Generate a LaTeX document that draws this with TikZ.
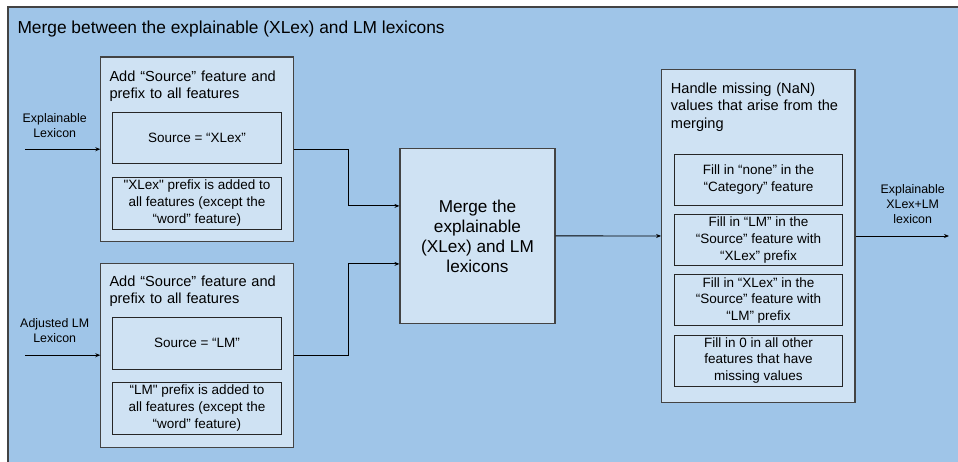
\documentclass[tikz,border=0pt]{standalone}
\usepackage{fontspec}
\setmainfont{Liberation Sans}[Ligatures=TeXOff]
\usetikzlibrary{arrows.meta}
\definecolor{sheet}{HTML}{9FC5E8}
\definecolor{panel}{HTML}{CFE2F3}
\definecolor{edge}{HTML}{434343}
\begin{document}
\begin{tikzpicture}[x=1pt,y=-1pt,
    outerbox/.style={draw=edge,fill=panel,line width=1.1pt,inner sep=0pt},
    innerbox/.style={draw=black!85,fill=panel,line width=1pt,inner sep=0pt,
        align=center,minimum width=168.4pt,font=\fontsize{13.5}{16.7}\selectfont},
    headtext/.style={anchor=base west,inner sep=0pt,text width=185pt,align=left,
        font=\fontsize{14.6}{17.6}\selectfont},
    sidetext/.style={align=center,inner sep=0pt,font=\fontsize{12.4}{14.6}\selectfont},
    flow/.style={-{Stealth[length=5pt,width=4pt]},line width=0.9pt}]
        \useasboundingbox (0,0) rectangle (958,461);
        %% Background sheet
        \fill[sheet] (8,7) rectangle (962,465);
        \draw[edge,line width=1.3pt] (8,470) -- (8,7) -- (962,7);
        \node[anchor=base west,inner sep=0pt,font=\fontsize{17.35}{20}\selectfont] (title)
            at (17.3,33.3) {Merge between the explainable (XLex) and LM lexicons};
        %% Explainable lexicon branch
        \node[outerbox,minimum width=192.3pt,minimum height=184.5pt] (xlexbox) at (197,149.2) {};
        \node[headtext] (xlexhead) at (109.3,81) {Add “Source” feature and\\prefix to all features};
        \node[innerbox,minimum height=51pt] (xlexsrc) at (197,137.5) {Source = “XLex”};
        \node[innerbox,minimum height=52pt] (xlexpre) at (197,203) {"XLex" prefix is added to\\all features (except the\\“word” feature)};
        %% LM lexicon branch
        \node[outerbox,minimum width=192.3pt,minimum height=183.7pt] (lmbox) at (197,355.2) {};
        \node[headtext] (lmhead) at (109.3,286.3) {Add “Source” feature and\\prefix to all features};
        \node[innerbox,minimum height=52pt] (lmsrc) at (197,343) {Source = “LM”};
        \node[innerbox,minimum height=52pt] (lmpre) at (197,408) {“LM" prefix is added to\\all features (except the\\“word” feature)};
        %% Merge
        \node[outerbox,minimum width=155pt,minimum height=174.3pt,align=center,
            font=\fontsize{17.2}{20}\selectfont] (merge) at (477.5,235.9) {Merge the\\explainable\\(XLex) and LM\\lexicons};
        %% NaN handling
        \node[outerbox,minimum width=193.3pt,minimum height=333.4pt] (nanbox) at (758.3,236) {};
        \node[headtext] (nanhead) at (670.7,93) {Handle missing (NaN)\\values that arise from the\\merging};
        \foreach \n/\cy/\txt in {
            1/179.8/{Fill in “none” in the\\“Category” feature},
            2/240/{Fill in “LM” in the\\“Source” feature with\\“XLex” prefix},
            3/300.3/{Fill in “XLex” in the\\“Source” feature with\\“LM” prefix},
            4/360.5/{Fill in 0 in all other\\features that have\\missing values}} {
            \node[innerbox,minimum height=51pt] (fill\n) at (758.5,\cy) {\txt};
        }
        %% Inputs and output
        \coordinate (xin) at (25,149.2);
        \coordinate (lmin) at (25,355.2);
        \coordinate (out) at (949,236);
        \node[sidetext] (xinlabel) at (54.7,125.5) {Explainable\\Lexicon};
        \node[sidetext] (lminlabel) at (54.7,330.8) {Adjusted LM\\Lexicon};
        \node[sidetext] (outlabel) at (912.7,204) {Explainable\\XLex+LM\\lexicon};
        %% Connectors
        \draw[flow] (xin) -- (xlexbox);
        \draw[flow] (lmin) -- (lmbox);
        \draw[flow] (xlexbox.east) -- ++(54.7,0) |- ([yshift=30pt]merge.west);
        \draw[flow] (lmbox.east) -- ++(54.7,0) |- ([yshift=-28pt]merge.west);
        \draw[flow] (merge) -- (nanbox);
        \draw[flow] (nanbox) -- (out);
    \end{tikzpicture}
\end{document}
